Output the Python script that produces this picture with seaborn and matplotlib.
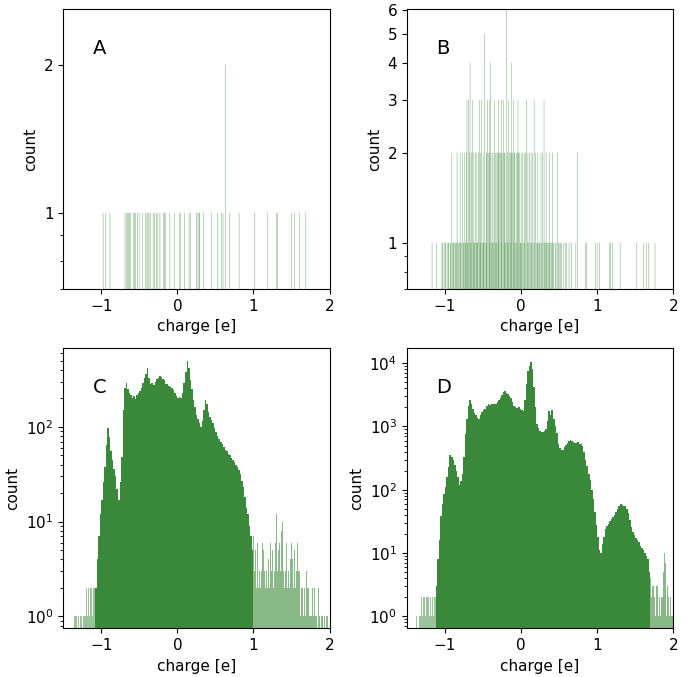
import numpy as np
import seaborn as sns
import matplotlib.pyplot as plt
from matplotlib.ticker import NullFormatter

GREEN = '#3a893a'

# panel A: charges of the occupied fine bins
a_ones = [-0.976, -0.945, -0.888, -0.69, -0.67, -0.656, -0.64, -0.626, -0.61, -0.58,
          -0.56, -0.547, -0.525, -0.503, -0.46, -0.416, -0.40, -0.385, -0.372, -0.354,
          -0.32, -0.30, -0.276, -0.254, -0.23, -0.18, -0.166, -0.153, -0.10, -0.035,
          0.03, 0.04, 0.096, 0.153, 0.175, 0.25, 0.27, 0.285, 0.293, 0.346, 0.446,
          0.525, 0.578, 0.60, 0.68, 0.81, 1.015, 1.19, 1.30, 1.32, 1.505, 1.54,
          1.605, 1.69]
a_twos = [0.63]

# panel B: charges of the occupied fine bins, grouped by count
b_six = [-0.19]
b_five = [-0.48]
b_four = [-0.67, -0.40, -0.13]
b_three = [-0.71, -0.69, -0.64, -0.55, -0.52, -0.44, -0.41, -0.35, -0.29, -0.26,
           -0.23, -0.16, -0.10, -0.04, 0.07, 0.17, 0.30]
b_two = [-0.91, -0.84, -0.80, -0.77, -0.74, -0.72, -0.68, -0.65, -0.62, -0.60,
         -0.58, -0.56, -0.53, -0.50, -0.46, -0.45, -0.43, -0.42, -0.38, -0.37,
         -0.34, -0.33, -0.31, -0.30, -0.28, -0.27, -0.25, -0.24, -0.22, -0.21,
         -0.18, -0.15, -0.14, -0.12, -0.11, -0.09, -0.08, -0.06, -0.05, -0.03,
         -0.02, 0.00, 0.02, 0.04, 0.06, 0.09, 0.11, 0.13, 0.15, 0.19, 0.22, 0.26,
         0.28, 0.33, 0.37, 0.41, 0.48, 0.74]
b_one = [-1.17, -1.11, -1.04, -1.03, -1.01, -1.00, -0.99, -0.97, -0.96, -0.95,
         -0.93, -0.92, -0.90, -0.89, -0.88, -0.87, -0.86, -0.85, -0.83, -0.82,
         -0.81, -0.79, -0.78, -0.76, -0.75, -0.73, -0.70, -0.66, -0.63, -0.61,
         -0.59, -0.57, -0.54, -0.51, -0.49, -0.47, -0.39, -0.36, -0.32, -0.20,
         -0.17, -0.07, -0.01, 0.01, 0.03, 0.05, 0.08, 0.10, 0.12, 0.14, 0.16,
         0.18, 0.20, 0.21, 0.23, 0.24, 0.25, 0.27, 0.29, 0.31, 0.32, 0.34, 0.35,
         0.36, 0.38, 0.39, 0.40, 0.42, 0.43, 0.45, 0.46, 0.49, 0.50, 0.52, 0.53,
         0.56, 0.58, 0.60, 0.63, 0.66, 0.72, 0.84, 0.86, 0.98, 1.00, 1.03, 1.16,
         1.18, 1.20, 1.30, 1.52, 1.61, 1.65, 1.68, 1.76,
         -0.735, -0.695, -0.655, -0.615, -0.575, -0.535, -0.495, -0.455, -0.415,
         -0.375, -0.335, -0.295, -0.255, -0.215, -0.175, -0.135, -0.095, -0.055,
         -0.015]

# panel C: bin heights, 0.02 wide bins from -1.08, plus sparse tails (0.01 bins)
c_start = -1.08
c_core = [2, 4, 7, 12, 17, 26, 38, 65, 98, 78,
          55, 45, 36, 30, 22, 17, 26, 48, 150, 260,
          290, 250, 225, 215, 200, 210, 195, 215, 225, 240,
          260, 290, 325, 360, 415, 330, 280, 290, 275, 300,
          320, 330, 345, 335, 320, 310, 285, 280, 270, 265,
          255, 245, 230, 210, 200, 205, 200, 230, 290, 380,
          490, 420, 310, 250, 190, 163, 135, 120, 110, 100,
          115, 150, 190, 175, 145, 128, 118, 110, 98, 89,
          80, 75, 70, 66, 62, 57, 55, 52, 50, 47,
          45, 43, 40, 38, 35, 32, 27, 23, 18, 14,
          12, 9, 7, 5]
c_left_start = -1.36
c_left = [1, 0, 1, 1, 0, 1, 1, 0, 1, 1, 1, 0, 1, 1, 1, 1, 2, 1, 2, 2,
          1, 2, 2, 2, 1, 2, 2, 2]
c_right_start = 1.00
c_right = [7, 3, 5, 2, 4, 6, 2, 3, 5, 2,
           3, 6, 2, 5, 3, 2, 7, 3, 2, 4,
           3, 2, 6, 3, 5, 9, 2, 3, 6, 4,
           12, 3, 5, 2, 6, 3, 8, 4, 10, 3,
           2, 5, 3, 6, 2, 3, 5, 2, 4, 6,
           2, 4, 2, 5, 3, 2, 3, 6, 2, 3,
           3, 1, 4, 2, 2, 1, 3, 2, 1, 3,
           2, 1, 2, 1, 1, 2, 1, 2, 1, 1,
           2, 1, 1, 1, 0, 2, 1, 1, 0, 1,
           1, 0, 1, 1, 0, 1, 0, 1]

# panel D
d_start = -1.12
d_core = [3, 8, 16, 38, 60, 85, 110, 160, 230, 360,
          330, 290, 250, 200, 160, 120, 135, 180, 330, 760,
          1300, 2100, 2630, 2300, 1900, 1650, 1500, 1350, 1320, 1500,
          1700, 1850, 1900, 2100, 2250, 2200, 2250, 2300, 2250, 2300,
          2450, 2600, 2800, 3100, 3500, 3700, 3400, 3300, 3000, 2800,
          2400, 2100, 2000, 1950, 2050, 1900, 1800, 1750, 2600, 4700,
          7500, 9200, 10400, 8200, 4200, 2000, 1100, 950, 850, 820,
          830, 850, 900, 1200, 1750, 1500, 1800, 1300, 1000, 800,
          520, 450, 420, 430, 470, 510, 540, 580, 610, 590,
          560, 550, 540, 560, 530, 520, 500, 400, 300, 240,
          180, 140, 100, 70, 45, 28, 18, 11, 10, 14,
          18, 24, 27, 29, 32, 34, 37, 40, 45, 50,
          55, 60, 58, 56, 55, 50, 42, 33, 26, 21,
          19, 17, 16, 15, 13, 12, 11, 10, 9, 8,
          5]
d_left_start = -1.38
d_left = [1, 0, 1, 0, 1, 1, 0, 2, 1, 2, 1, 2, 1, 2, 1, 2, 2, 1, 2, 2,
          1, 2, 2, 1, 2, 2]
d_right_start = 1.70
d_right = [4, 2, 3, 1, 3, 2, 1, 3, 2, 3, 1, 2, 3, 1, 2, 2, 3, 5, 10, 7,
           2, 1, 3, 2, 1, 1, 2, 1, 2, 1]

panel_names = ['A', 'B', 'C', 'D']


def fine_hist(ax, charges, counts):
    edges = np.arange(-1.5, 2.0001, 0.0045).tolist()
    sns.histplot(x=charges, weights=counts, bins=edges, ax=ax, color=GREEN,
                 alpha=1, linewidth=0, edgecolor='none', snap=False)


def block_hist(ax, start, width, counts, alpha=1.0):
    edges = start + width * np.arange(len(counts) + 1)
    centers = edges[:-1] + width / 2
    sns.histplot(x=centers, weights=counts, bins=edges.tolist(), ax=ax,
                 color=GREEN, alpha=alpha, linewidth=0, edgecolor='none')


fig, axes = plt.subplots(2, 2, figsize=(6.87, 6.77), dpi=100)
fig.subplots_adjust(left=0.092, right=0.98, top=0.987, bottom=0.072,
                    wspace=0.29, hspace=0.21)
axA, axB, axC, axD = axes.flat

fine_hist(axA, a_ones + a_twos, [1] * len(a_ones) + [2] * len(a_twos))

b_x = b_one + b_two + b_three + b_four + b_five + b_six
b_n = ([1] * len(b_one) + [2] * len(b_two) + [3] * len(b_three)
       + [4] * len(b_four) + [5] * len(b_five) + [6] * len(b_six))
fine_hist(axB, b_x, b_n)

block_hist(axC, c_start, 0.02, c_core)
block_hist(axC, c_left_start, 0.01, c_left, alpha=0.5)
block_hist(axC, c_right_start, 0.01, c_right, alpha=0.6)

block_hist(axD, d_start, 0.02, d_core)
block_hist(axD, d_left_start, 0.01, d_left, alpha=0.5)
block_hist(axD, d_right_start, 0.01, d_right, alpha=0.6)

ylims = [(0.7, 2.6), (0.7, 6.05), (0.75, 680), (0.64, 17500)]
for ax, name, lim in zip(axes.flat, panel_names, ylims):
    ax.set_yscale('log')
    ax.set_xlim(-1.5, 2)
    ax.set_ylim(*lim)
    ax.set_xticks([-1, 0, 1, 2])
    ax.set_xlabel('charge [e]', fontsize=11)
    ax.set_ylabel('count', fontsize=11)
    ax.tick_params(labelsize=11)
    ax.text(0.11, 0.86, name, transform=ax.transAxes, fontsize=14,
            va='center', ha='left')

axA.set_yticks([1, 2], labels=['1', '2'])
axB.set_yticks([1, 2, 3, 4, 5, 6], labels=['1', '2', '3', '4', '5', '6'])
for ax in (axA, axB):
    ax.yaxis.set_minor_formatter(NullFormatter())

fig.savefig('out.png', dpi=100)
